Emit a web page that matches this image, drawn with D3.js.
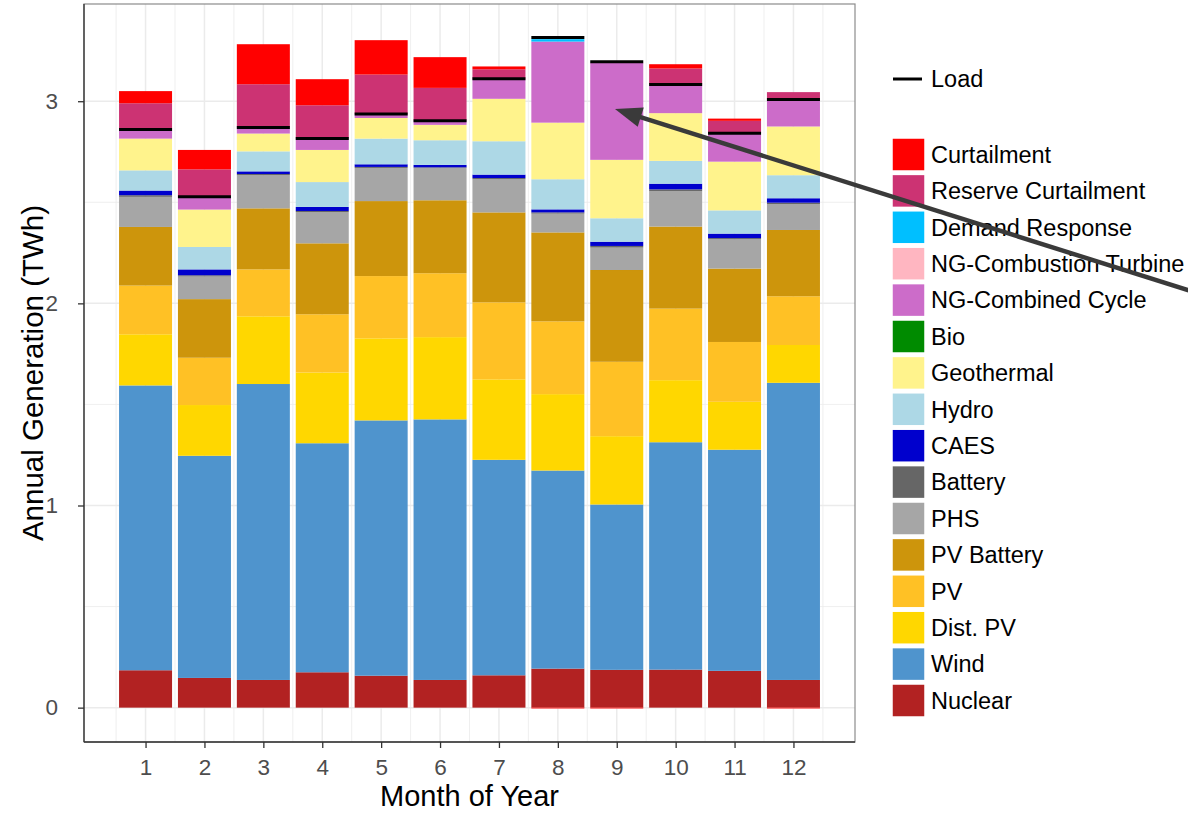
<!DOCTYPE html>
<html>
<head>
<meta charset="utf-8">
<script src="https://cdn.jsdelivr.net/npm/d3@7"></script>
<style>
  html, body { margin: 0; padding: 0; background: #fff; }
  svg { display: block; font-family: "Liberation Sans", Arial, Helvetica, sans-serif; }
</style>
</head>
<body>
<svg id="chart" width="1188" height="813"></svg>
<script>
// Monthly generation by source (TWh)
const months = [1, 2, 3, 4, 5, 6, 7, 8, 9, 10, 11, 12];

const nuclear     = [0.185, 0.147, 0.137, 0.175, 0.158, 0.137, 0.160, 0.193, 0.187, 0.188, 0.182, 0.137];
const wind        = [1.409, 1.099, 1.464, 1.133, 1.263, 1.289, 1.066, 0.980, 0.818, 1.125, 1.094, 1.470];
const distPV      = [0.253, 0.251, 0.335, 0.350, 0.406, 0.407, 0.398, 0.378, 0.338, 0.307, 0.237, 0.187];
const pv          = [0.241, 0.234, 0.232, 0.288, 0.308, 0.316, 0.381, 0.360, 0.368, 0.354, 0.296, 0.241];
const pvBattery   = [0.290, 0.290, 0.302, 0.351, 0.371, 0.361, 0.445, 0.440, 0.454, 0.406, 0.363, 0.328];
const phs         = [0.149, 0.112, 0.164, 0.155, 0.164, 0.160, 0.164, 0.093, 0.111, 0.176, 0.145, 0.128];
const battery     = [0.008, 0.006, 0.006, 0.005, 0.005, 0.003, 0.006, 0.006, 0.008, 0.008, 0.006, 0.007];
const caes        = [0.023, 0.029, 0.013, 0.020, 0.013, 0.012, 0.017, 0.015, 0.021, 0.028, 0.022, 0.022];
const hydro       = [0.100, 0.111, 0.099, 0.123, 0.127, 0.122, 0.165, 0.149, 0.116, 0.113, 0.115, 0.114];
const geothermal  = [0.157, 0.185, 0.088, 0.159, 0.102, 0.076, 0.210, 0.280, 0.289, 0.236, 0.241, 0.241];
const bio         = [0, 0, 0, 0, 0, 0, 0, 0, 0, 0, 0, 0];
const ngCombined  = [0.046, 0.064, 0.030, 0.056, 0.020, 0.021, 0.099, 0.401, 0.480, 0.142, 0.141, 0.133];
const ngTurbine   = [0, 0, 0, 0, 0, 0, 0, 0, 0, 0, 0, 0];
const demandResp  = [0, 0, 0, 0, 0, 0, 0, 0.012, 0, 0, 0, 0];
const reserveCurt = [0.129, 0.135, 0.214, 0.165, 0.195, 0.162, 0.047, 0, 0, 0.079, 0.061, 0.037];
const curtailment = [0.060, 0.096, 0.198, 0.129, 0.170, 0.152, 0.014, -0.004, -0.004, 0.021, 0.011, -0.004];

const load        = [2.860, 2.528, 2.870, 2.815, 2.937, 2.904, 3.111, 3.315, 3.195, 3.083, 2.842, 3.008];

// Sources in stacking order (bottom to top)
const sources = ["Nuclear", "Wind", "Dist. PV", "PV", "PV Battery", "PHS", "Battery", "CAES",
  "Hydro", "Geothermal", "Bio", "NG-Combined Cycle", "NG-Combustion Turbine",
  "Demand Response", "Reserve Curtailment", "Curtailment"];
const sourceValues = [nuclear, wind, distPV, pv, pvBattery, phs, battery, caes,
  hydro, geothermal, bio, ngCombined, ngTurbine, demandResp, reserveCurt, curtailment];
const sourceColors = ["#B22222", "#4F94CD", "#FFD700", "#FFC125", "#CD950C", "#A6A6A6", "#666666", "#0000CD",
  "#ADD8E6", "#FFF38C", "#008B00", "#CC6CC9", "#FFB6C1",
  "#00BFFF", "#CC3373", "#FF0000"];

const yTicks = [0, 1, 2, 3];

// Table for the stack layout
const table = months.map((m, i) => {
  const row = { month: m };
  sources.forEach((s, k) => { row[s] = sourceValues[k][i]; });
  return row;
});

const stack = d3.stack().keys(sources).offset(d3.stackOffsetDiverging);
const layers = stack(table);

// Panel geometry
const panel = { left: 84, right: 855, top: 4, bottom: 742 };
const svg = d3.select("#chart");

const barWidth = 0.9;
const xData = [d3.min(months) - barWidth / 2, d3.max(months) + barWidth / 2];
const xPad = (xData[1] - xData[0]) * 0.05;
const x = d3.scaleLinear().domain([xData[0] - xPad, xData[1] + xPad]).range([panel.left, panel.right]);

const yMin = Math.min(0, d3.min(layers, l => d3.min(l, d => d[0])));
const yMax = Math.max(d3.max(layers, l => d3.max(l, d => d[1])), d3.max(load));
const yPad = (yMax - yMin) * 0.05;
const y = d3.scaleLinear().domain([yMin - yPad, yMax + yPad]).range([panel.bottom, panel.top]);

// Grid
const grid = svg.append("g");
const minorX = d3.range(0.5, 13, 1);
const minorY = [0.5, 1.5, 2.5].filter(v => v > y.domain()[0] && v < y.domain()[1]);
grid.selectAll(".mx").data(minorX).join("line")
  .attr("x1", d => x(d)).attr("x2", d => x(d))
  .attr("y1", panel.top).attr("y2", panel.bottom)
  .attr("stroke", "#EBEBEB").attr("stroke-width", 0.8);
grid.selectAll(".my").data(minorY).join("line")
  .attr("x1", panel.left).attr("x2", panel.right)
  .attr("y1", d => y(d)).attr("y2", d => y(d))
  .attr("stroke", "#EBEBEB").attr("stroke-width", 0.8);
grid.selectAll(".Mx").data(months).join("line")
  .attr("x1", d => x(d)).attr("x2", d => x(d))
  .attr("y1", panel.top).attr("y2", panel.bottom)
  .attr("stroke", "#EBEBEB").attr("stroke-width", 1.5);
grid.selectAll(".My").data(yTicks).join("line")
  .attr("x1", panel.left).attr("x2", panel.right)
  .attr("y1", d => y(d)).attr("y2", d => y(d))
  .attr("stroke", "#EBEBEB").attr("stroke-width", 1.5);

// Stacked bars
const bars = svg.append("g");
layers.forEach((layer, k) => {
  bars.append("g").attr("fill", sourceColors[k])
    .selectAll("rect").data(layer.filter(d => d[1] !== d[0])).join("rect")
    .attr("x", d => x(d.data.month - barWidth / 2))
    .attr("width", d => x(d.data.month + barWidth / 2) - x(d.data.month - barWidth / 2))
    .attr("y", d => y(Math.max(d[0], d[1])))
    .attr("height", d => Math.abs(y(d[0]) - y(d[1])));
});

// Load markers
svg.append("g").selectAll("line").data(months).join("line")
  .attr("x1", (d) => x(d - barWidth / 2)).attr("x2", (d) => x(d + barWidth / 2))
  .attr("y1", (d, i) => y(load[i])).attr("y2", (d, i) => y(load[i]))
  .attr("stroke", "#000").attr("stroke-width", 3);

// Panel border
svg.append("rect")
  .attr("x", panel.left).attr("y", panel.top)
  .attr("width", panel.right - panel.left).attr("height", panel.bottom - panel.top)
  .attr("fill", "none").attr("stroke", "#8C8C8C").attr("stroke-width", 1.2);

// Axes
const xAxis = svg.append("g").attr("transform", `translate(0,${panel.bottom})`)
  .call(d3.axisBottom(x).tickValues(months).tickFormat(d3.format("d")).tickSize(6).tickPadding(11));
const yAxis = svg.append("g").attr("transform", `translate(${panel.left},0)`)
  .call(d3.axisLeft(y).tickValues(yTicks).tickFormat(d3.format("d")).tickSize(6).tickPadding(20));
[xAxis, yAxis].forEach(a => {
  a.select(".domain").attr("stroke", "#333").attr("stroke-width", 1.3);
  a.selectAll(".tick line").attr("stroke", "#333").attr("stroke-width", 1.3);
  a.selectAll(".tick text").attr("fill", "#4D4D4D").attr("font-size", 22.5)
    .attr("font-family", "'Liberation Sans', Arial, sans-serif");
});
xAxis.select(".domain").attr("d", `M${panel.left},0H${panel.right}`);
yAxis.select(".domain").attr("d", `M0,${panel.bottom}V${panel.top}`);

// Axis titles
svg.append("text").attr("x", (panel.left + panel.right) / 2).attr("y", 806)
  .attr("text-anchor", "middle").attr("font-size", 29).attr("fill", "#000")
  .text("Month of Year");
svg.append("text")
  .attr("transform", `translate(43,${(panel.top + panel.bottom) / 2}) rotate(-90)`)
  .attr("text-anchor", "middle").attr("font-size", 29.5).attr("fill", "#000")
  .text("Annual Generation (TWh)");

// Legend
const legend = svg.append("g").attr("transform", "translate(892,0)");
legend.append("line").attr("x1", 1).attr("x2", 30).attr("y1", 79).attr("y2", 79)
  .attr("stroke", "#000").attr("stroke-width", 3);
legend.append("text").attr("x", 39).attr("y", 79).attr("dy", "0.35em")
  .attr("font-size", 23.5).attr("fill", "#000").text("Load");

const legendOrder = sources.map((s, k) => k).reverse();
const keyTop = 138, keyStep = 36.4, keySize = 33;
const items = legend.selectAll(".item").data(legendOrder).join("g")
  .attr("transform", (d, i) => `translate(0,${keyTop + i * keyStep})`);
items.append("rect").attr("width", keySize).attr("height", keySize)
  .attr("fill", d => sourceColors[d]).attr("stroke", "#fff").attr("stroke-width", 1.5);
items.append("text").attr("x", 39).attr("y", keySize / 2).attr("dy", "0.35em")
  .attr("font-size", 23.5).attr("fill", "#000").text(d => sources[d]);

// Annotation arrow pointing at the September NG-Combined Cycle block
const tip = [615, 109], tail = [1200, 294];
const dx = tip[0] - tail[0], dy = tip[1] - tail[1];
const len = Math.hypot(dx, dy), ux = dx / len, uy = dy / len;
const headLen = 27, headHalf = 10;
const base = [tip[0] - ux * headLen, tip[1] - uy * headLen];
svg.append("line").attr("x1", tail[0]).attr("y1", tail[1])
  .attr("x2", base[0] + ux * 2).attr("y2", base[1] + uy * 2)
  .attr("stroke", "#3A3A3A").attr("stroke-width", 4.5);
svg.append("polygon")
  .attr("points", [tip, [base[0] - uy * headHalf, base[1] + ux * headHalf],
    [base[0] + uy * headHalf, base[1] - ux * headHalf]].map(p => p.join(",")).join(" "))
  .attr("fill", "#3A3A3A");
</script>
</body>
</html>
